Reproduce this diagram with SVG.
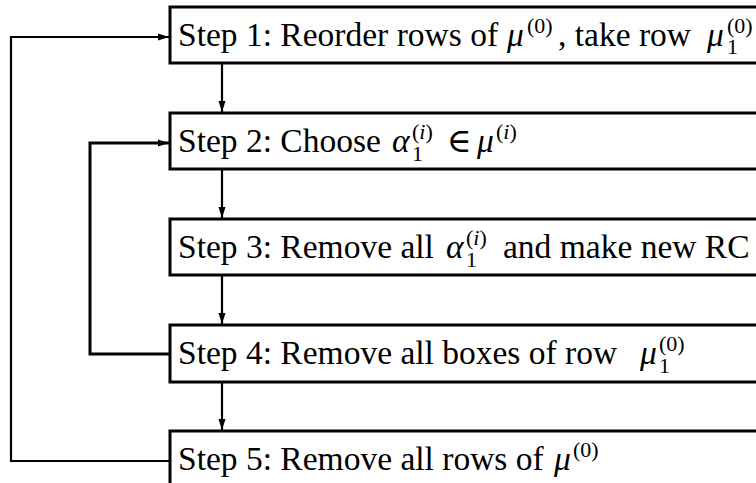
<svg xmlns="http://www.w3.org/2000/svg" width="756" height="483" viewBox="0 0 756 483">
<style>
.box{fill:#fff;stroke:#000;stroke-width:3}
.ln{fill:none;stroke:#000;stroke-width:2.2}
.lnb{fill:none;stroke:#000;stroke-width:3}
.t{font-family:"Liberation Serif","DejaVu Serif",serif;font-size:33.5px;fill:#000}
.m{font-style:italic}
.s{font-size:22px}
</style>
<defs>
<marker id="ar" markerUnits="userSpaceOnUse" markerWidth="12" markerHeight="10" refX="11" refY="5" orient="auto" viewBox="0 0 12 10">
<path d="M0,1.5 L11,5 L0,8.5 Z" fill="#000"/>
</marker>
</defs>
<rect width="756" height="483" fill="#fff"/>
<g id="connectors">
<line class="ln" x1="222" y1="64" x2="222" y2="112" marker-end="url(#ar)"/>
<line class="ln" x1="222" y1="170" x2="222" y2="218" marker-end="url(#ar)"/>
<line class="ln" x1="222" y1="276" x2="222" y2="324" marker-end="url(#ar)"/>
<line class="ln" x1="222" y1="383" x2="222" y2="430" marker-end="url(#ar)"/>
<polyline class="lnb" points="169,354 90,354 90,143 169,143" marker-end="url(#ar)"/>
<polyline class="ln" points="169,461 11,461 11,37 169,37" marker-end="url(#ar)"/>
</g>
<g id="step1">
<rect class="box" x="170" y="7" width="620" height="56"/>
<text class="t" y="46"><tspan x="178">Step 1: Reorder rows of</tspan><tspan class="m" x="507">μ</tspan><tspan class="s" x="527" y="33">(0)</tspan><tspan x="558" y="46">, take row</tspan><tspan class="m" x="707">μ</tspan></text>
<text class="t s" x="727" y="54">1</text>
<text class="t s" x="727" y="33">(0)</text>
</g>
<g id="step2">
<rect class="box" x="170" y="113" width="620" height="56"/>
<text class="t" y="152"><tspan x="178">Step 2: Choose</tspan><tspan class="m" x="392">α</tspan><tspan x="447">∈</tspan><tspan class="m" x="477">μ</tspan></text>
<text class="t s" x="412" y="161">1</text>
<text class="t s" x="412" y="139">(<tspan class="m">i</tspan>)</text>
<text class="t s" x="496" y="139">(<tspan class="m">i</tspan>)</text>
</g>
<g id="step3">
<rect class="box" x="170" y="219" width="620" height="56"/>
<text class="t" y="258"><tspan x="178">Step 3: Remove all</tspan><tspan class="m" x="446">α</tspan><tspan x="503">and make new RC</tspan></text>
<text class="t s" x="466" y="267">1</text>
<text class="t s" x="466" y="245">(<tspan class="m">i</tspan>)</text>
</g>
<g id="step4">
<rect class="box" x="170" y="325" width="620" height="57"/>
<text class="t" y="364"><tspan x="178">Step 4: Remove all boxes of row</tspan><tspan class="m" x="640">μ</tspan></text>
<text class="t s" x="659" y="373">1</text>
<text class="t s" x="659" y="351">(0)</text>
</g>
<g id="step5">
<rect class="box" x="170" y="431" width="620" height="60"/>
<text class="t" y="470"><tspan x="178">Step 5: Remove all rows of</tspan><tspan class="m" x="554">μ</tspan><tspan class="s" x="573" y="457">(0)</tspan></text>
</g>
</svg>
